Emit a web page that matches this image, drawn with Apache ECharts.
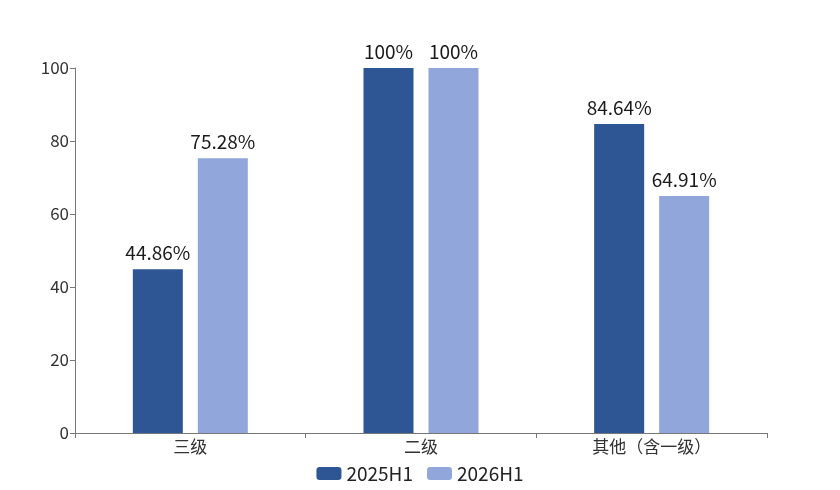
<!DOCTYPE html>
<html><head><meta charset="utf-8">
<script src="https://cdn.jsdelivr.net/npm/echarts@6/dist/echarts.min.js"></script>
<style>html,body{margin:0;padding:0;background:#fff}#c{width:840px;height:490px}</style>
</head><body><div id="c"></div>
<script>
const categories = ['三级', '二级', '其他（含一级）'];
const seriesNames = ['2025H1', '2026H1'];
const values2025 = [44.86, 100, 84.64];
const values2026 = [75.28, 100, 64.91];
const yTicks = [0, 20, 40, 60, 80, 100];

const font = '"Noto Sans CJK SC", "Noto Sans", sans-serif';
const chart = echarts.init(document.getElementById('c'), null, {renderer: 'canvas'});
const label = {
  show: true, position: 'top', distance: 7, color: '#1a1a1a', fontSize: 19, fontFamily: font,
  formatter: p => p.value + '%'
};
chart.setOption({
  animation: false,
  textStyle: {fontFamily: font},
  grid: {left: 75, right: 73, top: 68, bottom: 57, containLabel: false},
  legend: {
    bottom: 2, left: 'center', itemWidth: 25, itemHeight: 13, itemGap: 14,
    icon: 'roundRect',
    textStyle: {fontSize: 19, color: '#222', fontFamily: font},
    data: seriesNames
  },
  xAxis: {
    type: 'category', data: categories,
    axisLine: {lineStyle: {color: '#777', width: 1}},
    axisTick: {show: true, length: 5, lineStyle: {color: '#777'}},
    axisLabel: {fontSize: 17, color: '#333', margin: 5, fontFamily: font}
  },
  yAxis: {
    type: 'value', min: yTicks[0], max: yTicks[yTicks.length - 1], interval: 20,
    axisLine: {show: true, lineStyle: {color: '#777', width: 1}},
    axisTick: {show: true, length: 5, lineStyle: {color: '#777'}},
    splitLine: {show: false},
    axisLabel: {fontSize: 17, color: '#333', margin: 6, fontFamily: font}
  },
  series: [
    {name: seriesNames[0], type: 'bar', data: values2025, barWidth: 50, barGap: '30%',
     itemStyle: {color: '#2E5594'}, label: label},
    {name: seriesNames[1], type: 'bar', data: values2026, barWidth: 50,
     itemStyle: {color: '#91A6DA'}, label: label}
  ]
});
</script></body></html>
